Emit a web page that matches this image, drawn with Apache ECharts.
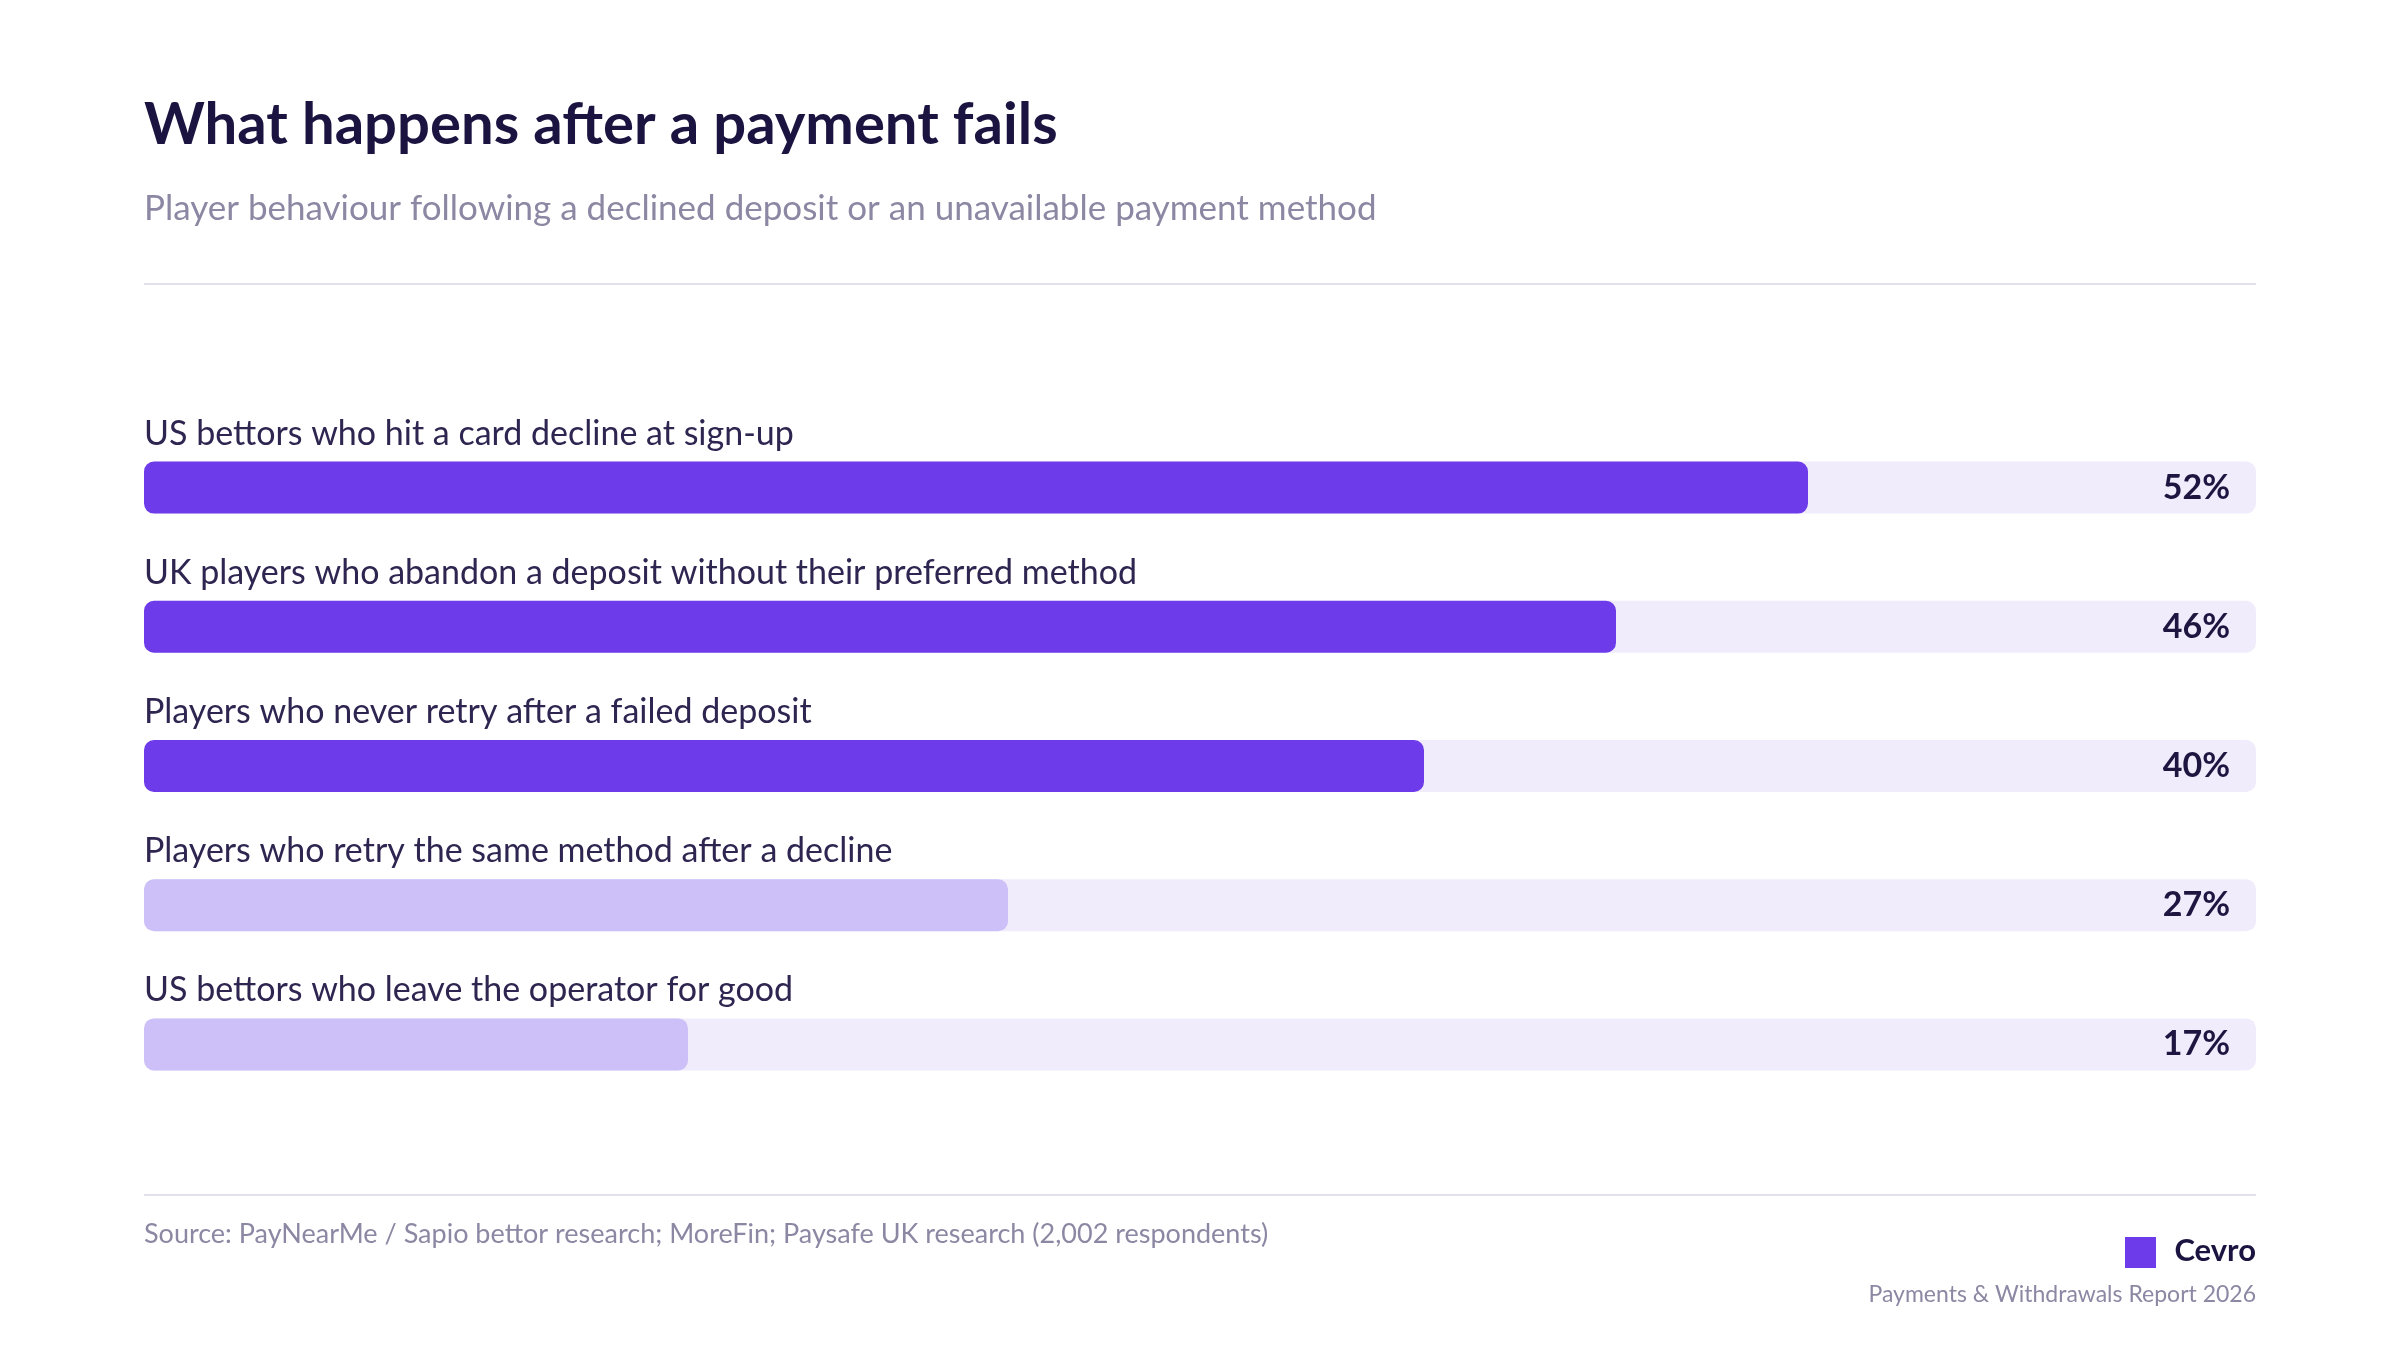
<!DOCTYPE html>
<html><head><meta charset="utf-8">
<script src="https://cdn.jsdelivr.net/npm/echarts@6/dist/echarts.min.js"></script>
<style>html,body{margin:0;background:#fff}#c{width:2400px;height:1350px}</style>
</head><body><div id="c"></div>
<script>
const categories = [
  "US bettors who hit a card decline at sign-up",
  "UK players who abandon a deposit without their preferred method",
  "Players who never retry after a failed deposit",
  "Players who retry the same method after a decline",
  "US bettors who leave the operator for good"
];
const values = [52, 46, 40, 27, 17];
const highlight = [true, true, true, false, false];
const axisMax = 66;

const F = 'Lato, "Noto Sans", sans-serif';
const chart = echarts.init(document.getElementById('c'));
chart.setOption({
  backgroundColor: '#fff',
  animation: false,
  grid: { left: 144, right: 144, top: 418, bottom: 236 },
  xAxis: { type: 'value', min: 0, max: axisMax, show: false },
  yAxis: { type: 'category', data: categories, inverse: true, show: false },
  series: [
    { type: 'bar', barWidth: 52, barGap: '-100%', z: 1, silent: true,
      data: values.map(() => axisMax),
      itemStyle: { color: '#F0ECFB', borderRadius: 10 },
      label: { show: true, position: [0, -45], formatter: p => categories[p.dataIndex],
        color: '#2E2550', fontFamily: F, fontSize: 34 } },
    { type: 'bar', barWidth: 52, barGap: '-100%', z: 3,
      data: values.map((v, i) => ({ value: v, itemStyle: { color: highlight[i] ? '#6E3BEA' : '#CDBFF7' } })),
      itemStyle: { borderRadius: 10 } },
    { type: 'bar', barWidth: 52, barGap: '-100%', z: 4, silent: true,
      data: values.map(() => axisMax), itemStyle: { color: 'rgba(0,0,0,0)' },
      label: { show: true, position: 'insideRight', distance: 26, formatter: p => values[p.dataIndex] + '%',
        color: '#1E1640', fontFamily: F, fontSize: 34, fontWeight: 'bold' } }
  ],
  graphic: [
    { type: 'text', left: 144, top: 96, style: { text: 'What happens after a payment fails', fontFamily: F, fontSize: 58, fontWeight: 'bold', fill: '#1B1440' } },
    { type: 'text', left: 144, top: 191, style: { text: 'Player behaviour following a declined deposit or an unavailable payment method', fontFamily: F, fontSize: 35, fill: '#8C87A3' } },
    { type: 'rect', shape: { x: 144, y: 283, width: 2112, height: 2 }, style: { fill: '#E2E0EA' } },
    { type: 'rect', shape: { x: 144, y: 1194, width: 2112, height: 2 }, style: { fill: '#E2E0EA' } },
    { type: 'text', left: 144, top: 1221, style: { text: 'Source: PayNearMe / Sapio bettor research; MoreFin; Paysafe UK research (2,002 respondents)', fontFamily: F, fontSize: 27, fill: '#8C87A3' } },
    { type: 'rect', shape: { x: 2125, y: 1237, width: 31, height: 31 }, style: { fill: '#6E3BEA' } },
    { type: 'text', right: 144, top: 1235, style: { text: 'Cevro', fontFamily: F, fontSize: 31, fontWeight: 'bold', fill: '#1B1440' } },
    { type: 'text', right: 144, top: 1283, style: { text: 'Payments & Withdrawals Report 2026', fontFamily: F, fontSize: 23, fill: '#8C87A3' } }
  ]
});
</script></body></html>
